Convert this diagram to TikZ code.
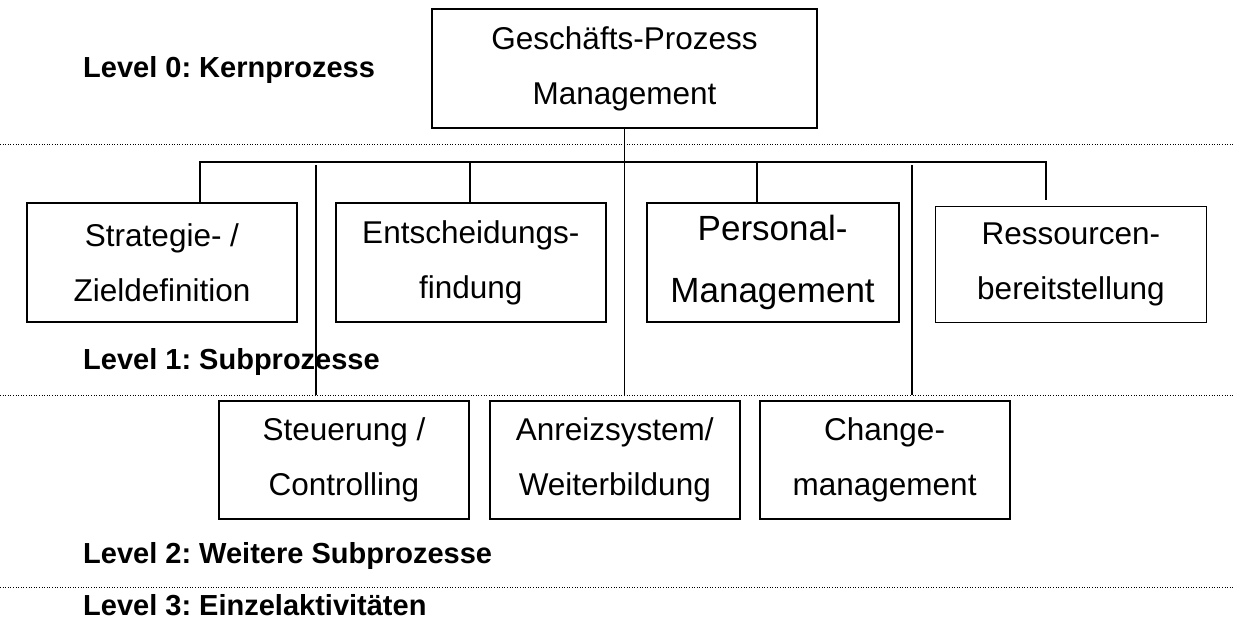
\documentclass[tikz,border=0pt]{standalone}
\usepackage{fontspec}
\setmainfont{Liberation Sans}
\frenchspacing
\usetikzlibrary{positioning,calc}
\tikzset{procbox/.style={draw, line width=1.8pt, inner sep=0pt, align=center, font=\fontsize{31.5}{55}\selectfont}}
\tikzset{sub1/.style={minimum width=270pt, minimum height=119pt}}
\tikzset{sub2/.style={minimum width=250pt, minimum height=118pt}}
\tikzset{levelname/.style={anchor=base west, inner sep=0pt, font=\fontsize{29}{34}\selectfont\bfseries}}
\tikzset{lnk/.style={draw, line width=1.8pt}}
\tikzset{levelsep/.style={draw=black, line width=1pt, dash pattern=on 1pt off 1.6pt}}

\begin{document}
\begin{tikzpicture}[x=1pt, y=-1pt]
	\useasboundingbox (0,0) rectangle (1233,620);
	% dotted rules between the levels
	\coordinate (sep1) at (0,145);
	\coordinate (sep2) at (0,395);
	\coordinate (sep3) at (0,587);
	\foreach \s in {sep1,sep2,sep3}
		\draw[levelsep] (\s) -- ++(1233,0);
	%
	\node[levelname] (lvl0) at (83,78) {Level 0: Kernprozess};
	\node[levelname] (lvl1) at (83,369) {Level 1: Subprozesse};
	\node[levelname] (lvl2) at (83,563) {Level 2: Weitere Subprozesse};
	\node[levelname] (lvl3) at (83,615) {Level 3: Einzelaktivit\"aten};
	%
	\node[procbox, minimum width=385pt, minimum height=119pt] (gpm) at (624.5,68.5) {Gesch\"afts-Prozess\\Management};
	%
	\node[procbox, sub1] (ziel) at (162,262.5) {Strategie- /\\Zieldefinition};
	\node[procbox, sub1, right=37pt of ziel] (entsch) {Entscheidungs-\\findung};
	\node[procbox, sub1, minimum width=252pt, right=39pt of entsch, font=\fontsize{35}{62}\selectfont] (personal) {Personal-\\Management};
	\node[procbox, sub1, minimum width=271pt, minimum height=116pt, right=35pt of personal, yshift=-2pt] (ressourcen) {Ressourcen-\\bereitstellung};
	%
	\node[procbox, sub2] (steuer) at (344,460) {Steuerung /\\Controlling};
	\node[procbox, sub2, right=19pt of steuer] (anreiz) {Anreizsystem/\\Weiterbildung};
	\node[procbox, sub2, right=18pt of anreiz] (change) {Change-\\management};
	%
	\coordinate (k1) at (200,162);
	\coordinate (k2) at (470,162);
	\coordinate (k3) at (757,162);
	\coordinate (k4) at (1046,162);
	\draw[lnk, shorten >=6pt] (k1 |- ziel.north) -- (k1) -- (k4) -- (k4 |- ressourcen.north);
	\foreach \k/\b in {k2/entsch, k3/personal}
		\draw[lnk] (\k) -- (\k |- \b.north);
	\draw[lnk] (gpm.south) -- (gpm.south |- sep2);
	%
	\coordinate (v1) at (316,165);
	\coordinate (v3) at (912,165);
	\draw[lnk] (v1) -- (v1 |- sep2);
	\draw[lnk] (v3) -- (v3 |- sep2);
\end{tikzpicture}
\end{document}
